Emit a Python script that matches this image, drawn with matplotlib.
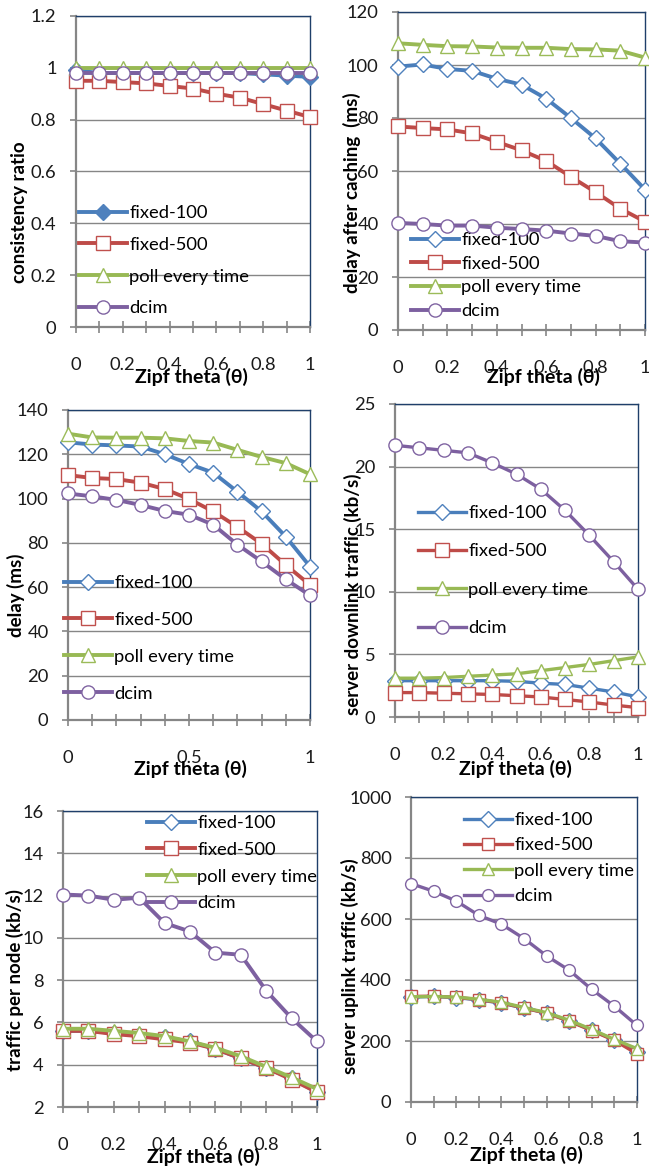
import matplotlib
matplotlib.use('Agg')
import matplotlib.pyplot as plt
from matplotlib.ticker import FuncFormatter

plt.rcParams['font.family'] = ['Lato', 'DejaVu Sans']

# Zipf theta values on the x axis
theta = [0, 0.1, 0.2, 0.3, 0.4, 0.5, 0.6, 0.7, 0.8, 0.9, 1.0]
series_names = ['fixed-100', 'fixed-500', 'poll every time', 'dcim']

# consistency ratio
cons_fixed100 = [0.99, 0.98, 0.98, 0.98, 0.98, 0.98, 0.98, 0.98, 0.975, 0.97, 0.965]
cons_fixed500 = [0.95, 0.95, 0.945, 0.94, 0.93, 0.92, 0.90, 0.885, 0.86, 0.835, 0.81]
cons_poll = [1.0, 1.0, 1.0, 1.0, 1.0, 1.0, 1.0, 1.0, 1.0, 1.0, 1.0]
cons_dcim = [0.98, 0.98, 0.98, 0.98, 0.98, 0.98, 0.98, 0.98, 0.98, 0.98, 0.98]

# delay after caching (ms)
dac_fixed100 = [99.4, 100.2, 98.5, 97.8, 94.8, 92.6, 87.3, 80.0, 72.3, 62.8, 53.0]
dac_fixed500 = [76.8, 76.2, 75.7, 74.2, 71.0, 67.8, 63.8, 57.8, 52.0, 45.8, 40.9]
dac_poll = [108.2, 107.6, 107.1, 107.0, 106.6, 106.5, 106.5, 106.0, 105.9, 105.4, 102.8]
dac_dcim = [40.4, 40.0, 39.4, 39.4, 38.6, 38.1, 37.5, 36.4, 35.5, 33.5, 33.0]

# delay (ms)
delay_fixed100 = [125.4, 124.4, 124.0, 123.5, 120.0, 115.6, 111.7, 103.1, 94.2, 82.8, 69.3]
delay_fixed500 = [110.6, 109.3, 108.8, 107.2, 104.3, 99.8, 94.2, 87.2, 79.6, 70.0, 61.0]
delay_poll = [129.3, 127.6, 127.5, 127.5, 127.2, 126.0, 125.3, 122.0, 118.8, 116.0, 111.0]
delay_dcim = [102.3, 101.0, 99.4, 97.1, 94.4, 92.7, 88.2, 79.2, 71.6, 63.5, 56.3]

# server downlink traffic (kb/s)
down_fixed100 = [2.9, 2.9, 2.9, 2.9, 2.9, 2.85, 2.7, 2.6, 2.3, 2.0, 1.6]
down_fixed500 = [1.95, 1.95, 1.9, 1.85, 1.8, 1.7, 1.6, 1.4, 1.2, 0.95, 0.75]
down_poll = [3.1, 3.1, 3.15, 3.25, 3.35, 3.45, 3.7, 3.95, 4.2, 4.5, 4.8]
down_dcim = [21.7, 21.5, 21.3, 21.1, 20.3, 19.4, 18.2, 16.5, 14.5, 12.4, 10.2]

# traffic per node (kb/s)
node_fixed100 = [5.6, 5.6, 5.5, 5.4, 5.3, 5.1, 4.75, 4.3, 3.85, 3.35, 2.7]
node_fixed500 = [5.6, 5.6, 5.45, 5.35, 5.2, 5.05, 4.75, 4.3, 3.85, 3.3, 2.7]
node_poll = [5.7, 5.7, 5.6, 5.5, 5.35, 5.1, 4.8, 4.4, 3.9, 3.4, 2.85]
node_dcim = [12.05, 12.0, 11.8, 11.9, 10.7, 10.3, 9.3, 9.2, 7.5, 6.2, 5.1]

# server uplink traffic (kb/s)
up_fixed100 = [344, 346, 342, 335, 324, 308, 292, 266, 236, 203, 165]
up_fixed500 = [346, 347, 343, 336, 325, 308, 291, 265, 234, 202, 158]
up_poll = [345, 346, 344, 337, 327, 310, 293, 268, 238, 205, 175]
up_dcim = [716, 691, 659, 612, 583, 536, 479, 432, 369, 314, 251]

W, H = 649, 1168
line_cols = ['#4A7EBB', '#BE4B48', '#98B954', '#7D60A0']
edge_cols = ['#4F81BD', '#C0504D', '#9BBB59', '#8064A2']
markers = ['D', 's', '^', 'o']
GRAY = '#868686'
NAVY = '#1F3F6A'
FS = 13.2
LAB_FS = 13.5

fig = plt.figure(figsize=(W / 100, H / 100), dpi=100)


def px_axes(l, r, t, b):
    return fig.add_axes([l / W, 1 - b / H, (r - l) / W, (b - t) / H])


def fmt(v, pos):
    return '%g' % round(v, 6)


def panel(box, data, ylim, ystep, ylabel, ylab_xy, xlab_xy, leg, xlabels,
          filled_first=False, msize=9.5, lw=2.8):
    ax = px_axes(*box)
    for i, ys in enumerate(data):
        face = edge_cols[i] if (i == 0 and filled_first) else 'white'
        ax.plot(theta, ys, color=line_cols[i], lw=lw, marker=markers[i],
                markersize=msize if markers[i] != 'D' else msize * 0.9,
                markerfacecolor=face, markeredgecolor=edge_cols[i],
                markeredgewidth=1.0, label=series_names[i], clip_on=False,
                zorder=3 + i)
    ax.set_xlim(0, 1)
    ax.set_ylim(*ylim)
    yt = []
    v = ylim[0]
    while v <= ylim[1] + 1e-9:
        yt.append(v)
        v += ystep
    ax.set_yticks(yt)
    ax.yaxis.set_major_formatter(FuncFormatter(fmt))
    ax.set_xticks(theta)
    ax.set_xticklabels(xlabels)
    ax.grid(axis='y', color=GRAY, lw=1.0)
    ax.set_axisbelow(True)
    for s in ['left', 'bottom']:
        ax.spines[s].set_color(GRAY)
        ax.spines[s].set_linewidth(1.6)
    for s in ['top', 'right']:
        ax.spines[s].set_color(NAVY)
        ax.spines[s].set_linewidth(1.0)
    ax.tick_params(axis='x', direction='inout', length=9, width=1.2,
                   color=GRAY, pad=17, labelsize=FS, labelcolor='#1a1a1a')
    ax.tick_params(axis='y', direction='out', length=4, width=1.2,
                   color=GRAY, pad=10, labelsize=FS, labelcolor='#1a1a1a')
    ax.set_ylabel(ylabel, fontsize=LAB_FS, fontweight='bold')
    ax.yaxis.set_label_coords(ylab_xy[0] / W, 1 - ylab_xy[1] / H,
                              transform=fig.transFigure)
    ax.set_xlabel('Zipf theta (θ)', fontsize=LAB_FS + 0.5, fontweight='bold')
    ax.xaxis.set_label_coords(xlab_xy[0] / W, 1 - xlab_xy[1] / H,
                              transform=fig.transFigure)
    ax.xaxis.label.set_verticalalignment('center')
    ax.yaxis.label.set_verticalalignment('center')
    lx, ly, spacing = leg
    ax.legend(loc='upper left', bbox_to_anchor=(lx / W, 1 - ly / H),
              bbox_transform=fig.transFigure, frameon=False, fontsize=FS,
              borderpad=0, borderaxespad=0, handlelength=2.6,
              handletextpad=0.15, labelspacing=spacing)
    return ax


lab_every_2 = ['0', '', '0.2', '', '0.4', '', '0.6', '', '0.8', '', '1']
lab_half = ['0', '', '', '', '', '0.5', '', '', '', '', '1']

panel((76, 310, 16, 327), [cons_fixed100, cons_fixed500, cons_poll, cons_dcim],
      (0, 1.2), 0.2, 'consistency ratio', (20, 212), (191, 377),
      (79, 205, 0.86), lab_every_2, filled_first=True)

panel((398, 645, 12, 330), [dac_fixed100, dac_fixed500, dac_poll, dac_dcim],
      (0, 120), 20, 'delay after caching  (ms)', (352, 193), (543, 377),
      (411, 232, 0.42), lab_every_2)

panel((68, 310, 410, 720), [delay_fixed100, delay_fixed500, delay_poll, delay_dcim],
      (0, 140), 20, 'delay (ms)', (16, 595), (190, 769),
      (64, 575, 1.14), lab_half)

panel((395, 638, 404, 717), [down_fixed100, down_fixed500, down_poll, down_dcim],
      (0, 25), 5, 'server downlink traffic (kb/s)', (353, 594), (515, 769),
      (418, 505, 1.22), lab_every_2, lw=2.4)

panel((63, 317, 811, 1107), [node_fixed100, node_fixed500, node_poll, node_dcim],
      (2, 16), 2, 'traffic per node (kb/s)', (15, 980), (203, 1157),
      (147, 815, 0.59), lab_every_2)

panel((411, 637, 797, 1102), [up_fixed100, up_fixed500, up_poll, up_dcim],
      (0, 1000), 200, 'server uplink traffic (kb/s)', (350, 966), (526, 1155),
      (464, 812, 0.51), lab_every_2, msize=8.5, lw=2.4)

fig.savefig('out.png', dpi=100)
